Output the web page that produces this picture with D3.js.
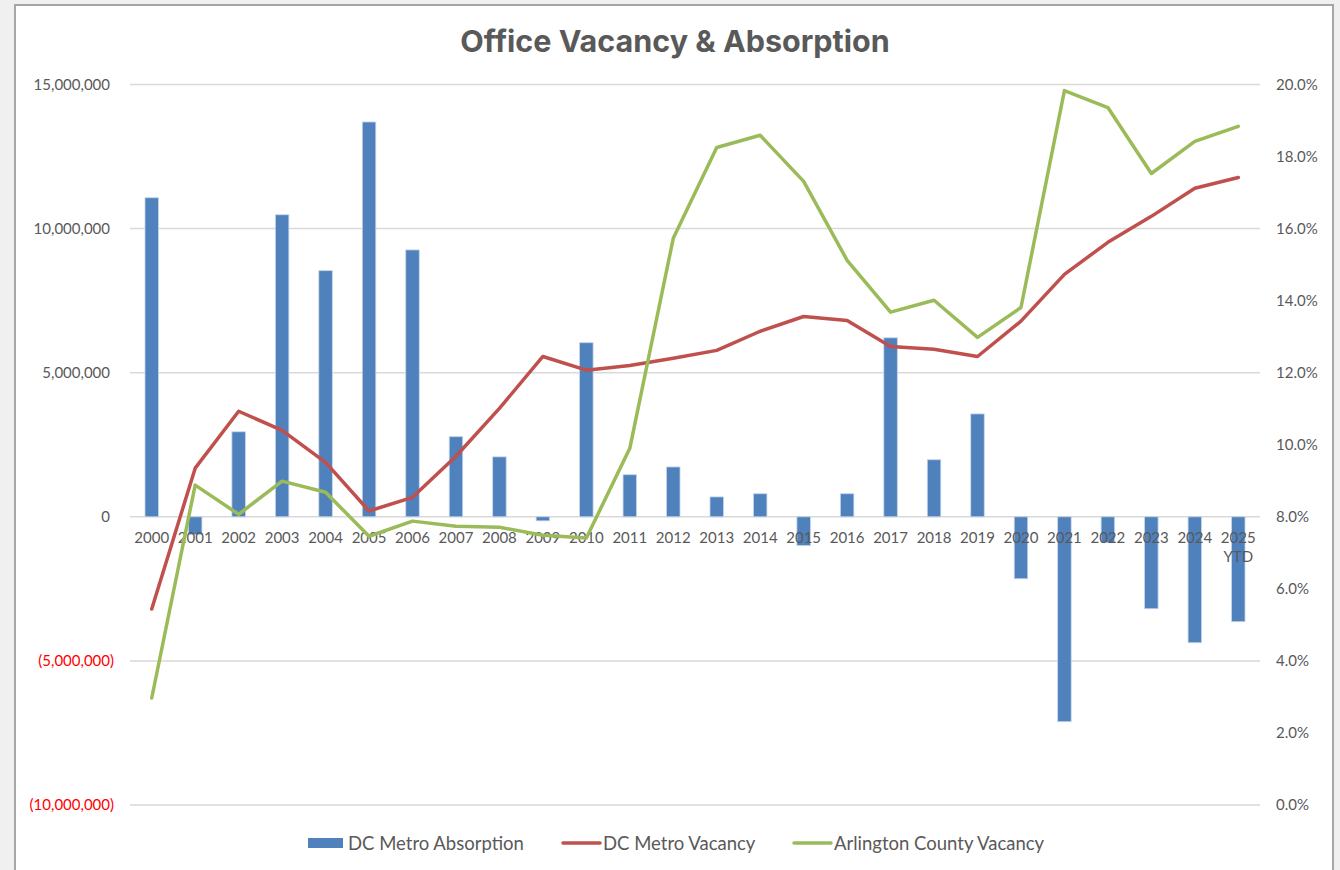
<!DOCTYPE html>
<html>
<head>
<meta charset="utf-8">
<script src="https://cdn.jsdelivr.net/npm/d3@7"></script>
<style>
  body { margin: 0; background: #f0f0f0; }
  svg { display: block; }
</style>
</head>
<body>
<svg id="chart" width="1340" height="870"></svg>
<script>
// chart data
const years = ["2000", "2001", "2002", "2003", "2004", "2005", "2006", "2007", "2008", "2009",
  "2010", "2011", "2012", "2013", "2014", "2015", "2016", "2017", "2018", "2019",
  "2020", "2021", "2022", "2023", "2024", "2025 YTD"];

// DC Metro net absorption (sq ft)
const absorption = [11070000, -620000, 2950000, 10480000, 8540000, 13700000, 9260000, 2780000, 2080000, -140000,
  6040000, 1460000, 1730000, 690000, 800000, -1000000, 800000, 6210000, 1980000, 3570000,
  -2150000, -7110000, -900000, -3190000, -4370000, -3640000];

// vacancy rates
const dcVacancy = [0.0544, 0.0935, 0.1093, 0.1040, 0.0951, 0.0816, 0.0854, 0.0968, 0.1101, 0.1245,
  0.1207, 0.1220, 0.1240, 0.1262, 0.1315, 0.1356, 0.1345, 0.1273, 0.1265, 0.1245,
  0.1343, 0.1473, 0.1562, 0.1634, 0.1712, 0.1742];

const arlVacancy = [0.0297, 0.0888, 0.0807, 0.0899, 0.0868, 0.0746, 0.0788, 0.0774, 0.0771, 0.0749,
  0.0741, 0.0990, 0.1573, 0.1825, 0.1859, 0.1731, 0.1512, 0.1368, 0.1401, 0.1298,
  0.1381, 0.1983, 0.1936, 0.1753, 0.1842, 0.1884];

const leftTicks = [-10000000, -5000000, 0, 5000000, 10000000, 15000000];
const rightTicks = [0, 0.02, 0.04, 0.06, 0.08, 0.10, 0.12, 0.14, 0.16, 0.18, 0.20];

const textColor = "#595959";
const font = "Lato, 'Open Sans', sans-serif";

let svg = d3.select("#chart");

// chart frame
svg.append("rect")
  .attr("x", 15).attr("y", 5)
  .attr("width", 1318).attr("height", 880)
  .attr("fill", "#fff")
  .attr("stroke", "#a6a6a6")
  .attr("stroke-width", 2);

// title
svg.append("text")
  .attr("x", 675).attr("y", 52)
  .attr("text-anchor", "middle")
  .attr("font-family", "Inter, 'Open Sans', sans-serif")
  .attr("font-weight", 700)
  .attr("font-size", 30.5)
  .attr("fill", textColor)
  .text("Office Vacancy & Absorption");

// scales
let x = d3.scaleBand().domain(years).range([130, 1260]);
let yL = d3.scaleLinear().domain([-10000000, 15000000]).range([805, 84.5]);
let yR = d3.scaleLinear().domain([0, 0.2]).range([805, 84.5]);

// gridlines
svg.append("g")
  .selectAll("line")
  .data(leftTicks)
  .join("line")
  .attr("x1", 130).attr("x2", 1260)
  .attr("y1", d => yL(d)).attr("y2", d => yL(d))
  .attr("stroke", "#d9d9d9")
  .attr("stroke-width", 1.5);

// left axis
let fmtNum = d3.format(",");
let leftAxis = d3.axisLeft(yL)
  .tickValues(leftTicks)
  .tickSize(0)
  .tickPadding(0)
  .tickFormat(d => d < 0 ? "(" + fmtNum(-d) + ")" : fmtNum(d));

let gLeft = svg.append("g").attr("transform", "translate(110,0)").call(leftAxis);
gLeft.select(".domain").remove();
gLeft.selectAll("text")
  .attr("font-family", font)
  .attr("font-size", 15)
  .attr("fill", d => d < 0 ? "#ff0000" : textColor)
  .attr("dx", d => d < 0 ? 4 : 0);

// right axis
let rightAxis = d3.axisRight(yR)
  .tickValues(rightTicks)
  .tickSize(0)
  .tickPadding(0)
  .tickFormat(d3.format(".1%"));

let gRight = svg.append("g").attr("transform", "translate(1276,0)").call(rightAxis);
gRight.select(".domain").remove();
gRight.selectAll("text")
  .attr("font-family", font)
  .attr("font-size", 15)
  .attr("fill", textColor);

// bars
let barW = 13.5;
svg.append("g")
  .selectAll("rect")
  .data(absorption)
  .join("rect")
  .attr("x", (d, i) => x(years[i]) + x.bandwidth() / 2 - barW / 2)
  .attr("width", barW)
  .attr("y", d => yL(Math.max(0, d)))
  .attr("height", d => Math.abs(yL(d) - yL(0)))
  .attr("fill", "#4f81bd")
  .attr("stroke", "#c6d6ea")
  .attr("stroke-width", 0.8);

// category labels
let xLabels = svg.append("g")
  .selectAll("text")
  .data(years)
  .join("text")
  .attr("text-anchor", "middle")
  .attr("font-family", font)
  .attr("font-size", 15)
  .attr("fill", textColor);

xLabels.each(function(d) {
  let parts = d.split(" ");
  let t = d3.select(this);
  parts.forEach((p, k) => {
    t.append("tspan")
      .attr("x", x(d) + x.bandwidth() / 2)
      .attr("y", 543 + k * 19)
      .text(p);
  });
});

// vacancy lines
let line = d3.line()
  .x((d, i) => x(years[i]) + x.bandwidth() / 2)
  .y(d => yR(d));

svg.append("path")
  .datum(dcVacancy)
  .attr("d", line)
  .attr("fill", "none")
  .attr("stroke", "#c0504d")
  .attr("stroke-width", 3.5)
  .attr("stroke-linejoin", "round")
  .attr("stroke-linecap", "round");

svg.append("path")
  .datum(arlVacancy)
  .attr("d", line)
  .attr("fill", "none")
  .attr("stroke", "#9bbb59")
  .attr("stroke-width", 3.5)
  .attr("stroke-linejoin", "round")
  .attr("stroke-linecap", "round");

// legend
let legend = svg.append("g").attr("font-family", font).attr("font-size", 18.5).attr("fill", textColor);

legend.append("rect")
  .attr("x", 308).attr("y", 838).attr("width", 35).attr("height", 10)
  .attr("fill", "#4f81bd");
legend.append("text").attr("x", 348).attr("y", 849.5).text("DC Metro Absorption");

legend.append("line")
  .attr("x1", 563).attr("x2", 600).attr("y1", 843).attr("y2", 843)
  .attr("stroke", "#c0504d").attr("stroke-width", 3.5).attr("stroke-linecap", "round");
legend.append("text").attr("x", 603).attr("y", 849.5).text("DC Metro Vacancy");

legend.append("line")
  .attr("x1", 794).attr("x2", 831).attr("y1", 843).attr("y2", 843)
  .attr("stroke", "#9bbb59").attr("stroke-width", 3.5).attr("stroke-linecap", "round");
legend.append("text").attr("x", 834).attr("y", 849.5).text("Arlington County Vacancy");
</script>
</body>
</html>
